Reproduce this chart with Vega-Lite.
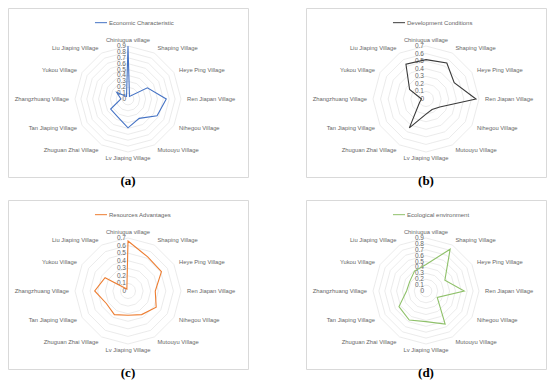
{
  "$schema": "https://vega.github.io/schema/vega-lite/v6.json",
  "padding": {"left": 7, "top": 7, "right": 7, "bottom": 0},
  "background": "white",
  "data": {"values": [
    {"panel": "(a)", "series": "Economic Characteristic", "i": 0, "village": "Chiniugua village", "value": 0.9},
    {"panel": "(a)", "series": "Economic Characteristic", "i": 1, "village": "Shaping Village", "value": 0.05},
    {"panel": "(a)", "series": "Economic Characteristic", "i": 2, "village": "Heye Ping Village", "value": 0.38},
    {"panel": "(a)", "series": "Economic Characteristic", "i": 3, "village": "Ren Jiapan Village", "value": 0.65},
    {"panel": "(a)", "series": "Economic Characteristic", "i": 4, "village": "Nihegou Village", "value": 0.57},
    {"panel": "(a)", "series": "Economic Characteristic", "i": 5, "village": "Mutouyu Village", "value": 0.38},
    {"panel": "(a)", "series": "Economic Characteristic", "i": 6, "village": "Lv Jiaping Village", "value": 0.49},
    {"panel": "(a)", "series": "Economic Characteristic", "i": 7, "village": "Zhuguan Zhai Village", "value": 0.35},
    {"panel": "(a)", "series": "Economic Characteristic", "i": 8, "village": "Tan Jiaping Village", "value": 0.34},
    {"panel": "(a)", "series": "Economic Characteristic", "i": 9, "village": "Zhangzhuang Village", "value": 0.12},
    {"panel": "(a)", "series": "Economic Characteristic", "i": 10, "village": "Yukou Village", "value": 0.22},
    {"panel": "(a)", "series": "Economic Characteristic", "i": 11, "village": "Liu Jiaping Village", "value": 0.05},
    {"panel": "(b)", "series": "Development Conditions", "i": 0, "village": "Chiniugua village", "value": 0.52},
    {"panel": "(b)", "series": "Development Conditions", "i": 1, "village": "Shaping Village", "value": 0.55},
    {"panel": "(b)", "series": "Development Conditions", "i": 2, "village": "Heye Ping Village", "value": 0.43},
    {"panel": "(b)", "series": "Development Conditions", "i": 3, "village": "Ren Jiapan Village", "value": 0.66},
    {"panel": "(b)", "series": "Development Conditions", "i": 4, "village": "Nihegou Village", "value": 0.21},
    {"panel": "(b)", "series": "Development Conditions", "i": 5, "village": "Mutouyu Village", "value": 0.16},
    {"panel": "(b)", "series": "Development Conditions", "i": 6, "village": "Lv Jiaping Village", "value": 0.2},
    {"panel": "(b)", "series": "Development Conditions", "i": 7, "village": "Zhuguan Zhai Village", "value": 0.44},
    {"panel": "(b)", "series": "Development Conditions", "i": 8, "village": "Tan Jiaping Village", "value": 0.1},
    {"panel": "(b)", "series": "Development Conditions", "i": 9, "village": "Zhangzhuang Village", "value": 0.06},
    {"panel": "(b)", "series": "Development Conditions", "i": 10, "village": "Yukou Village", "value": 0.25},
    {"panel": "(b)", "series": "Development Conditions", "i": 11, "village": "Liu Jiaping Village", "value": 0.53},
    {"panel": "(c)", "series": "Resources Advantages", "i": 0, "village": "Chiniugua village", "value": 0.66},
    {"panel": "(c)", "series": "Resources Advantages", "i": 1, "village": "Shaping Village", "value": 0.52},
    {"panel": "(c)", "series": "Resources Advantages", "i": 2, "village": "Heye Ping Village", "value": 0.51},
    {"panel": "(c)", "series": "Resources Advantages", "i": 3, "village": "Ren Jiapan Village", "value": 0.36},
    {"panel": "(c)", "series": "Resources Advantages", "i": 4, "village": "Nihegou Village", "value": 0.43},
    {"panel": "(c)", "series": "Resources Advantages", "i": 5, "village": "Mutouyu Village", "value": 0.36},
    {"panel": "(c)", "series": "Resources Advantages", "i": 6, "village": "Lv Jiaping Village", "value": 0.32},
    {"panel": "(c)", "series": "Resources Advantages", "i": 7, "village": "Zhuguan Zhai Village", "value": 0.36},
    {"panel": "(c)", "series": "Resources Advantages", "i": 8, "village": "Tan Jiaping Village", "value": 0.33},
    {"panel": "(c)", "series": "Resources Advantages", "i": 9, "village": "Zhangzhuang Village", "value": 0.44},
    {"panel": "(c)", "series": "Resources Advantages", "i": 10, "village": "Yukou Village", "value": 0.35},
    {"panel": "(c)", "series": "Resources Advantages", "i": 11, "village": "Liu Jiaping Village", "value": 0.03},
    {"panel": "(d)", "series": "Ecological environment", "i": 0, "village": "Chiniugua village", "value": 0.45},
    {"panel": "(d)", "series": "Ecological environment", "i": 1, "village": "Shaping Village", "value": 0.82},
    {"panel": "(d)", "series": "Ecological environment", "i": 2, "village": "Heye Ping Village", "value": 0.37},
    {"panel": "(d)", "series": "Ecological environment", "i": 3, "village": "Ren Jiapan Village", "value": 0.65},
    {"panel": "(d)", "series": "Ecological environment", "i": 4, "village": "Nihegou Village", "value": 0.22},
    {"panel": "(d)", "series": "Ecological environment", "i": 5, "village": "Mutouyu Village", "value": 0.65},
    {"panel": "(d)", "series": "Ecological environment", "i": 6, "village": "Lv Jiaping Village", "value": 0.52},
    {"panel": "(d)", "series": "Ecological environment", "i": 7, "village": "Zhuguan Zhai Village", "value": 0.57},
    {"panel": "(d)", "series": "Ecological environment", "i": 8, "village": "Tan Jiaping Village", "value": 0.53},
    {"panel": "(d)", "series": "Ecological environment", "i": 9, "village": "Zhangzhuang Village", "value": 0.33},
    {"panel": "(d)", "series": "Ecological environment", "i": 10, "village": "Yukou Village", "value": 0.32},
    {"panel": "(d)", "series": "Ecological environment", "i": 11, "village": "Liu Jiaping Village", "value": 0.39}
  ]},
  "transform": [
    {"joinaggregate": [{"op": "max", "field": "value", "as": "vmax"}], "groupby": ["panel"]},
    {"calculate": "ceil(datum.vmax*10-0.000001)/10", "as": "mx"},
    {"calculate": "datum.i*PI/6", "as": "ang"}
  ],
  "facet": {"field": "panel", "type": "nominal", "title": null,
    "header": {"labelOrient": "bottom", "labelFont": "Liberation Serif", "labelFontSize": 13, "labelFontWeight": "bold", "labelColor": "#000000", "labelPadding": -2}},
  "columns": 2,
  "spacing": {"column": 56, "row": 10},
  "spec": {
    "width": 240,
    "height": 169,
    "layer": [
      {
        "transform": [
          {"calculate": "[0.1,0.2,0.3,0.4,0.5,0.6,0.7,0.8,0.9]", "as": "lv"},
          {"flatten": ["lv"]},
          {"filter": "datum.lv <= datum.mx + 0.000001"},
          {"calculate": "datum.lv/datum.mx*sin(datum.ang)", "as": "gx"},
          {"calculate": "datum.lv/datum.mx*cos(datum.ang)", "as": "gy"}
        ],
        "mark": {"type": "line", "interpolate": "linear-closed", "stroke": "#e6e6e6", "strokeWidth": 0.8},
        "encoding": {
          "x": {"field": "gx", "type": "quantitative", "scale": {"domain": [-2.2642, 2.2642], "nice": false, "zero": false}, "axis": null},
          "y": {"field": "gy", "type": "quantitative", "scale": {"domain": [-1.4717, 1.717], "nice": false, "zero": false}, "axis": null},
          "detail": {"field": "lv", "type": "nominal"},
          "order": {"field": "i", "type": "quantitative"}
        }
      },
      {
        "transform": [
          {"filter": "datum.i == 0"},
          {"calculate": "[0,0.1,0.2,0.3,0.4,0.5,0.6,0.7,0.8,0.9]", "as": "lv"},
          {"flatten": ["lv"]},
          {"filter": "datum.lv <= datum.mx + 0.000001"},
          {"calculate": "datum.lv/datum.mx", "as": "ty"}
        ],
        "mark": {"type": "text", "align": "right", "baseline": "middle", "dx": -2, "fontSize": 6.5, "color": "#666666", "font": "Liberation Sans"},
        "encoding": {
          "x": {"datum": 0, "type": "quantitative", "scale": {"domain": [-2.2642, 2.2642], "nice": false, "zero": false}, "axis": null},
          "y": {"field": "ty", "type": "quantitative", "scale": {"domain": [-1.4717, 1.717], "nice": false, "zero": false}, "axis": null},
          "text": {"field": "lv", "type": "quantitative", "format": "~g"}
        }
      },
      {
        "transform": [
          {"calculate": "datum.value/datum.mx*sin(datum.ang)", "as": "px"},
          {"calculate": "datum.value/datum.mx*cos(datum.ang)", "as": "py"}
        ],
        "mark": {"type": "line", "interpolate": "linear-closed", "strokeWidth": 1.1},
        "encoding": {
          "x": {"field": "px", "type": "quantitative", "scale": {"domain": [-2.2642, 2.2642], "nice": false, "zero": false}, "axis": null},
          "y": {"field": "py", "type": "quantitative", "scale": {"domain": [-1.4717, 1.717], "nice": false, "zero": false}, "axis": null},
          "color": {"field": "series", "type": "nominal", "legend": null,
            "scale": {"domain": ["Economic Characteristic", "Development Conditions", "Resources Advantages", "Ecological environment"], "range": ["#4472c4", "#3a3a3a", "#ed7d31", "#8fc16a"]}},
          "order": {"field": "i", "type": "quantitative"}
        }
      },
      {
        "transform": [
          {"filter": "datum.i >= 1 && datum.i <= 5"},
          {"calculate": "1.113*sin(datum.ang)", "as": "lx"},
          {"calculate": "1.113*cos(datum.ang)", "as": "ly"}
        ],
        "mark": {"type": "text", "align": "left", "baseline": "middle", "fontSize": 5.8, "color": "#666666", "font": "Liberation Sans"},
        "encoding": {
          "x": {"field": "lx", "type": "quantitative", "scale": {"domain": [-2.2642, 2.2642], "nice": false, "zero": false}, "axis": null},
          "y": {"field": "ly", "type": "quantitative", "scale": {"domain": [-1.4717, 1.717], "nice": false, "zero": false}, "axis": null},
          "text": {"field": "village", "type": "nominal"}
        }
      },
      {
        "transform": [
          {"filter": "datum.i >= 7"},
          {"calculate": "1.113*sin(datum.ang)", "as": "lx"},
          {"calculate": "1.113*cos(datum.ang)", "as": "ly"}
        ],
        "mark": {"type": "text", "align": "right", "baseline": "middle", "fontSize": 5.8, "color": "#666666", "font": "Liberation Sans"},
        "encoding": {
          "x": {"field": "lx", "type": "quantitative", "scale": {"domain": [-2.2642, 2.2642], "nice": false, "zero": false}, "axis": null},
          "y": {"field": "ly", "type": "quantitative", "scale": {"domain": [-1.4717, 1.717], "nice": false, "zero": false}, "axis": null},
          "text": {"field": "village", "type": "nominal"}
        }
      },
      {
        "transform": [
          {"filter": "datum.i == 0 || datum.i == 6"},
          {"calculate": "1.113*sin(datum.ang)", "as": "lx"},
          {"calculate": "1.113*cos(datum.ang)", "as": "ly"}
        ],
        "mark": {"type": "text", "align": "center", "baseline": "middle", "fontSize": 5.8, "color": "#666666", "font": "Liberation Sans"},
        "encoding": {
          "x": {"field": "lx", "type": "quantitative", "scale": {"domain": [-2.2642, 2.2642], "nice": false, "zero": false}, "axis": null},
          "y": {"field": "ly", "type": "quantitative", "scale": {"domain": [-1.4717, 1.717], "nice": false, "zero": false}, "axis": null},
          "text": {"field": "village", "type": "nominal"}
        }
      },
      {
        "transform": [{"filter": "datum.i == 0"}],
        "mark": {"type": "rule", "strokeWidth": 1},
        "encoding": {
          "x": {"datum": -0.623, "type": "quantitative", "scale": {"domain": [-2.2642, 2.2642], "nice": false, "zero": false}, "axis": null},
          "x2": {"datum": -0.396},
          "y": {"datum": 1.44, "type": "quantitative", "scale": {"domain": [-1.4717, 1.717], "nice": false, "zero": false}, "axis": null},
          "color": {"field": "series", "type": "nominal", "legend": null}
        }
      },
      {
        "transform": [{"filter": "datum.i == 0"}],
        "mark": {"type": "text", "align": "left", "baseline": "middle", "fontSize": 6, "color": "#666666", "font": "Liberation Sans"},
        "encoding": {
          "x": {"datum": -0.358, "type": "quantitative", "scale": {"domain": [-2.2642, 2.2642], "nice": false, "zero": false}, "axis": null},
          "y": {"datum": 1.44, "type": "quantitative", "scale": {"domain": [-1.4717, 1.717], "nice": false, "zero": false}, "axis": null},
          "text": {"field": "series", "type": "nominal"}
        }
      }
    ]
  },
  "config": {
    "view": {"stroke": "#d9d9d9", "strokeWidth": 1, "fill": "white"},
    "font": "Liberation Sans"
  }
}
